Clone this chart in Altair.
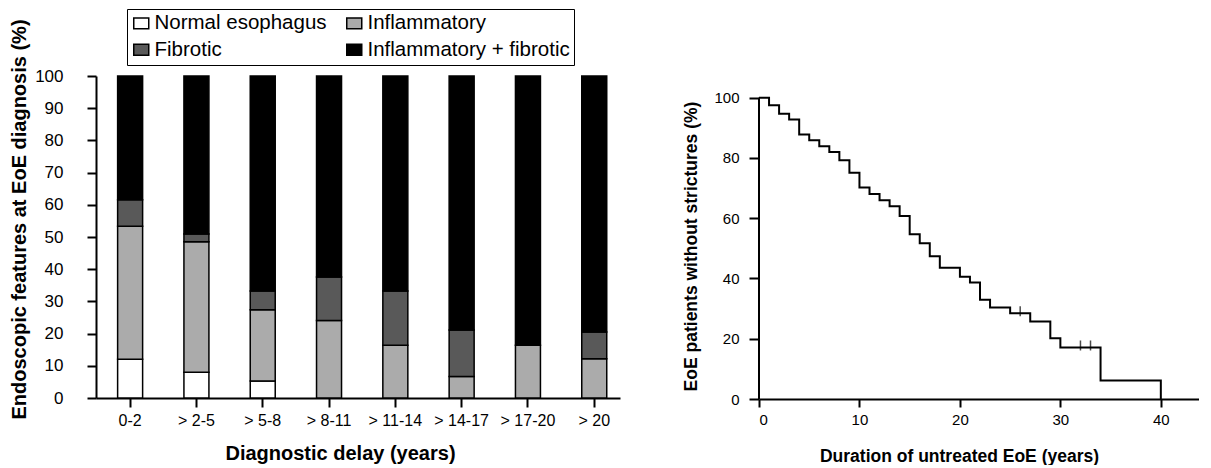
import altair as alt
import pandas as pd

# ---- Left panel: endoscopic features by diagnostic delay ----
categories = ["0-2", "> 2-5", "> 5-8", "> 8-11", "> 11-14", "> 14-17", "> 17-20", "> 20"]
feature_names = ["Normal esophagus", "Inflammatory", "Fibrotic", "Inflammatory + fibrotic"]
feature_colors = ["#ffffff", "#ababab", "#595959", "#000000"]
legend_order = ["Normal esophagus", "Fibrotic", "Inflammatory", "Inflammatory + fibrotic"]
normal = [12.0, 8.0, 5.3, 0, 0, 0, 0, 0]
inflammatory = [41.3, 40.5, 22.1, 24.1, 16.4, 6.7, 16.4, 12.2]
fibrotic = [8.3, 2.4, 5.8, 13.5, 16.8, 14.4, 0, 8.3]
infl_fib = [38.4, 49.1, 66.8, 62.4, 66.8, 78.9, 83.6, 79.5]
y_ticks_left = list(range(0, 101, 10))

# ---- Right panel: Kaplan-Meier curve ----
km_time = [0, 1, 2, 3, 4, 5, 6, 7, 8, 9, 10, 11, 12, 13, 14, 15, 16, 17, 18,
           20, 21, 22, 23, 25, 27, 29, 30, 34, 40]
km_surv = [100, 97.5, 94.7, 92.8, 87.8, 85.9, 83.9, 82.0, 79.2, 75.1, 70.2, 68.0,
           66.0, 64.0, 60.7, 54.7, 51.7, 47.4, 43.6, 40.6, 38.7, 32.9, 30.4, 28.5,
           25.7, 20.2, 17.1, 6.1, 0]
censor_time = [26, 32, 33]
censor_surv = [28.5, 17.1, 17.1]
x_ticks_right = [0, 10, 20, 30, 40]
y_ticks_right = [0, 20, 40, 60, 80, 100]

FONT = "Liberation Sans"

series = [normal, inflammatory, fibrotic, infl_fib]
rows = []
for i, cat in enumerate(categories):
    for j, name in enumerate(feature_names):
        v = series[j][i]
        if v > 0:
            rows.append({"delay": cat, "feature": name, "idx": j, "value": v})
bar_df = pd.DataFrame(rows)
color_map = dict(zip(feature_names, feature_colors))

common_axis = dict(domainColor="black", domainWidth=2, tickColor="black", tickWidth=2,
                   labelColor="black", titleColor="black", labelFont=FONT, titleFont=FONT,
                   titleFontWeight="bold", grid=False)

left = alt.Chart(bar_df).mark_bar(stroke="black", strokeWidth=1.5).encode(
    x=alt.X("delay:N", sort=categories,
            scale=alt.Scale(paddingInner=0.623, paddingOuter=0.263, align=0.62),
            axis=alt.Axis(title="Diagnostic delay (years)", labelAngle=0, labelFontSize=16,
                          labelPadding=5, tickSize=9, titleFontSize=20, titlePadding=15,
                          titleX=244, **common_axis)),
    y=alt.Y("value:Q", stack="zero", scale=alt.Scale(domain=[0, 100], nice=False),
            axis=alt.Axis(title="Endoscopic features at EoE diagnosis (%)", values=y_ticks_left,
                          labelFontSize=17, labelPadding=24, tickSize=9, titleFontSize=20,
                          titlePadding=5, titleY=143, **common_axis)),
    color=alt.Color("feature:N",
                    scale=alt.Scale(domain=legend_order,
                                    range=[color_map[n] for n in legend_order]),
                    title=None,
                    legend=alt.Legend(orient="none", legendX=31, legendY=-67, columns=2,
                                      columnPadding=16, rowPadding=5.5, padding=4,
                                      strokeColor="black", labelLimit=400,
                                      symbolType="M-1,-0.72H1V0.72H-1Z", symbolSize=225,
                                      symbolStrokeColor="black", symbolStrokeWidth=1.5,
                                      symbolOpacity=1, labelFont=FONT, labelFontSize=20.5,
                                      labelColor="black", labelOffset=3)),
    order=alt.Order("idx:Q", sort="ascending"),
).properties(width=524, height=322)

km_df = pd.DataFrame({"t": km_time, "s": km_surv})
censor_df = pd.DataFrame({"t": censor_time, "s": censor_surv})
yaxis_df = pd.DataFrame({"s": [y_ticks_right[0]], "s2": [y_ticks_right[-1]]})

xr = alt.X("t:Q", scale=alt.Scale(domain=[0, 43.8], nice=False, zero=False),
           axis=alt.Axis(title="Duration of untreated EoE (years)", values=x_ticks_right,
                         labelFontSize=15, labelPadding=5, tickSize=8, titleFontSize=17.5,
                         titlePadding=20, titleX=200, **common_axis))
yr = alt.Y("s:Q", scale=alt.Scale(domain=[0, 107.2], nice=False),
           axis=alt.Axis(title="EoE patients without strictures (%)", values=y_ticks_right,
                         domain=False, labelFontSize=15, labelPadding=10, tickSize=10,
                         titleFontSize=17.5, titlePadding=13, titleY=170, **common_axis))

line = alt.Chart(km_df).mark_line(interpolate="step-after", color="black", strokeWidth=2).encode(
    x=xr, y=yr)
cens = alt.Chart(censor_df).mark_tick(orient="vertical", size=10, thickness=1.5,
                                      color="black", yOffset=-2).encode(x="t:Q", y="s:Q")
yline = alt.Chart(yaxis_df).mark_rule(color="black", strokeWidth=2).encode(
    x=alt.value(0), y="s:Q", y2="s2:Q")

right = alt.layer(line, cens, yline).properties(width=440, height=323)

chart = alt.hconcat(left, right, spacing=62).properties(
    padding={"left": 1, "top": 0, "right": 0, "bottom": 0}
).configure_view(stroke=None)

chart.save("out.html", embed_options={"renderer": "svg", "actions": False})
